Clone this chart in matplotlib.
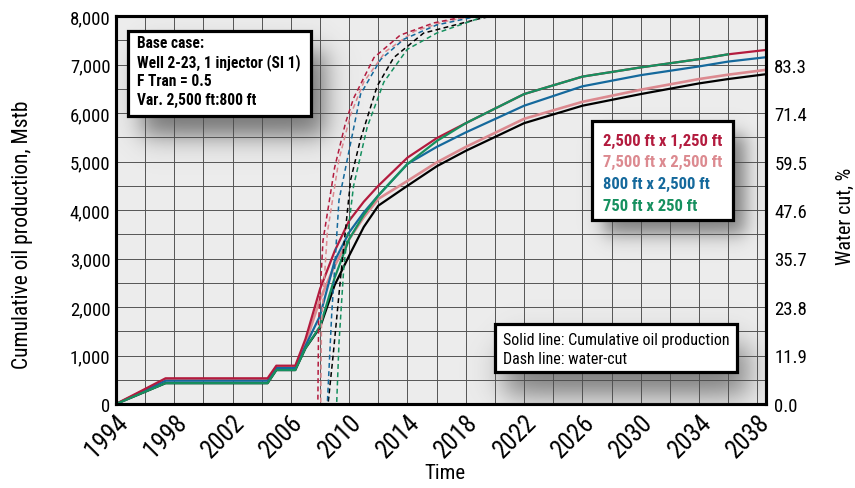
import numpy as np
import matplotlib
matplotlib.use("Agg")
import matplotlib.pyplot as plt
from matplotlib.patches import Rectangle
from matplotlib.ticker import FuncFormatter, MultipleLocator

plt.rcParams['font.family'] = ['Roboto Condensed', 'Roboto', 'DejaVu Sans']

# ---- data ----
years = [1994, 1997.4, 2004.4, 2005.0, 2006.3, 2007, 2008, 2009, 2010, 2011,
         2012, 2014, 2016, 2018, 2022, 2026, 2030, 2034, 2036, 2038.6]

cum_base = [0, 430, 430, 700, 700, 1150, 1580, 2450, 3060, 3650,
            4090, 4500, 4900, 5220, 5790, 6150, 6390, 6610, 6700, 6800]
cum_2500x1250 = [0, 530, 530, 790, 790, 1340, 2370, 3150, 3780, 4170,
                 4500, 5080, 5480, 5790, 6390, 6750, 6940, 7110, 7210, 7300]
cum_7500x2500 = [0, 500, 500, 760, 760, 1250, 2160, 2850, 3400, 3850,
                 4230, 4600, 4980, 5300, 5880, 6230, 6480, 6700, 6790, 6890]
cum_800x2500 = [0, 480, 480, 740, 740, 1200, 1820, 2950, 3540, 3950,
                4300, 4950, 5300, 5600, 6150, 6550, 6780, 6960, 7060, 7150]
cum_750x250 = [0, 430, 430, 700, 700, 1150, 1600, 2600, 3400, 3900,
               4300, 4950, 5420, 5790, 6390, 6750, 6940, 7110, 7210, np.nan]

wc_base_x = [1994, 2008.55, 2008.9, 2009.41, 2010.1, 2010.78, 2011.92, 2013.06, 2015.1, 2019.0, 2021.0]
wc_base = [0, 0, 12, 31, 55, 65, 78, 85, 91, 94.6, 96]
wc_2500x1250_x = [1994, 2007.85, 2007.9, 2008.2, 2009.0, 2009.75, 2010.3, 2011.7, 2013.5, 2015.8, 2018.1, 2020]
wc_2500x1250 = [0, 0, 20, 40, 58, 69, 75, 85, 90.5, 93.5, 95.2, 96.5]
wc_7500x2500_x = [1994, 2008.05, 2008.1, 2008.5, 2009.3, 2010.1, 2011.0, 2012.5, 2014.5, 2016.5, 2018.5, 2020.5]
wc_7500x2500 = [0, 0, 20, 42, 60, 71, 79, 86.5, 91.5, 93.8, 95.2, 96.5]
wc_800x2500_x = [1994, 2008.5, 2008.8, 2009.3, 2009.87, 2010.78, 2012.15, 2013.75, 2016.0, 2018.1, 2020]
wc_800x2500 = [0, 0, 22, 50, 60, 76, 84.5, 89.5, 93, 94.6, 96]
wc_750x250_x = [1994, 2009.14, 2009.3, 2009.64, 2010.3, 2011.24, 2012.38, 2013.98, 2016.0, 2019.2, 2021]
wc_750x250 = [0, 0, 15, 34, 53.5, 68, 79, 87, 91, 95, 96.5]

xticks = list(range(1994, 2039, 4))
yticks_left = list(range(0, 8001, 1000))
yticks_right = [0.0, 11.9, 23.8, 35.7, 47.6, 59.5, 71.4, 83.3]

legend_labels = ['2,500 ft x 1,250 ft', '7,500 ft x 2,500 ft',
                 '800 ft x 2,500 ft', '750 ft x 250 ft']
base_lines = ['Base case:', 'Well 2-23, 1 injector (SI 1)',
              'F Tran = 0.5', 'Var. 2,500 ft:800 ft']
note_lines = ['Solid line: Cumulative oil production', 'Dash line: water-cut']

RED = '#b31b3e'
PINK = '#dc8a90'
BLUE = '#15699c'
GREEN = '#16905f'
BLACK = '#000000'

W, H = 855, 489
fig = plt.figure(figsize=(W / 100, H / 100), dpi=100)

L, R, T, B = 116, 766, 17, 405
ax = fig.add_axes([L / W, (H - B) / H, (R - L) / W, (B - T) / H])
ax.set_facecolor('#ececec')

ax.plot(years, cum_base, color=BLACK, lw=1.6, zorder=3)
ax.plot(years, cum_7500x2500, color=PINK, lw=1.9, zorder=3)
ax.plot(years, cum_800x2500, color=BLUE, lw=1.6, zorder=3)
ax.plot(years, cum_2500x1250, color=RED, lw=1.6, zorder=3)
ax.plot(years, cum_750x250, color=GREEN, lw=1.6, zorder=3)

ax.set_xlim(1994, 2038.6)
ax.set_ylim(0, 8000)
ax.set_xticks(xticks)
ax.set_xticklabels([str(y) for y in xticks], rotation=45, ha='right',
                   rotation_mode='anchor', fontsize=18)
ax.set_yticks(yticks_left)
ax.yaxis.set_major_formatter(FuncFormatter(lambda v, p: f'{int(v):,}'))
ax.xaxis.set_minor_locator(MultipleLocator(2))
ax.yaxis.set_minor_locator(MultipleLocator(500))
ax.tick_params(axis='y', labelsize=13.5, length=0, pad=4)
ax.tick_params(axis='x', length=0, pad=4)
ax.tick_params(which='minor', length=0)
ax.grid(which='both', color='#555555', lw=0.7)
ax.set_axisbelow(True)
for s in ax.spines.values():
    s.set_linewidth(2.2)

ax.set_ylabel('Cumulative oil production, Mstb', fontsize=15.5)
ax.yaxis.set_label_coords(-0.128, 0.438)
ax.set_xlabel('Time', fontsize=15)
ax.xaxis.set_label_coords(0.506, -0.152)

ax2 = ax.twinx()
dash = (3.2, 2.2)
ax2.plot(wc_base_x, wc_base, color=BLACK, lw=1.1, dashes=dash)
ax2.plot(wc_7500x2500_x, wc_7500x2500, color=PINK, lw=1.1, dashes=dash)
ax2.plot(wc_800x2500_x, wc_800x2500, color=BLUE, lw=1.1, dashes=dash)
ax2.plot(wc_2500x1250_x, wc_2500x1250, color=RED, lw=1.1, dashes=dash)
ax2.plot(wc_750x250_x, wc_750x250, color=GREEN, lw=1.1, dashes=dash)
ax2.set_ylim(0, 95.2)
ax2.set_yticks(yticks_right)
ax2.set_yticklabels([f'{v:.1f}' for v in yticks_right])
ax2.tick_params(axis='y', labelsize=13.5, length=0, pad=6)
for s in ax2.spines.values():
    s.set_linewidth(2.2)
ax2.set_ylabel('Water cut, %', fontsize=14.5)
ax2.yaxis.set_label_coords(1.108, 0.485)

# ---- drop shadows + boxes on an overlay ----
ov = fig.add_axes([0, 0, 1, 1], zorder=5)
ov.set_xlim(0, W)
ov.set_ylim(H, 0)
ov.axis('off')
ov.patch.set_alpha(0)

boxes = [(128, 32, 311, 117), (592, 122, 733, 221), (495, 325, 737, 373)]
shadows = [(14, 20, 15, 0.75), (12, 14, 11, 0.7), (10, 22, 18, 0.75)]

gx, gy = np.meshgrid(np.arange(W) + 0.5, np.arange(H) + 0.5)
keep = 1.0
for (x0, y0, x1, y1), (dx, dy, s, a) in zip(boxes, shadows):
    fx = 0.5 * (np.tanh((gx - x0 - dx) / s) - np.tanh((gx - x1 - dx) / s))
    fy = 0.5 * (np.tanh((gy - y0 - dy) / s) - np.tanh((gy - y1 - dy) / s))
    keep = keep * (1 - a * fx * fy)
alpha = 1 - keep
inside = (gx > L) & (gx < R) & (gy > T) & (gy < B)
alpha = np.where(inside, alpha, 0)
img = np.zeros((H, W, 4))
img[..., :3] = 0.3
img[..., 3] = alpha
ov.imshow(img, extent=(0, W, H, 0), interpolation='bilinear', zorder=1)

for (x0, y0, x1, y1) in boxes:
    ov.add_patch(Rectangle((x0, y0), x1 - x0, y1 - y0, facecolor='white',
                           edgecolor='black', lw=2.3, zorder=2))

for txt, yy in zip(base_lines, [43.5, 63, 82, 100.5]):
    ov.text(137, yy, txt, fontsize=11.2, fontweight='bold', va='center', zorder=3)
for txt, yy, c in zip(legend_labels, [141.5, 162, 184, 206.5], [RED, PINK, BLUE, GREEN]):
    ov.text(603, yy, txt, fontsize=12, fontweight='bold', color=c, va='center', zorder=3)
for txt, yy in zip(note_lines, [341, 360]):
    ov.text(503, yy, txt, fontsize=11.5, va='center', zorder=3)

fig.savefig('out.png', dpi=100)
